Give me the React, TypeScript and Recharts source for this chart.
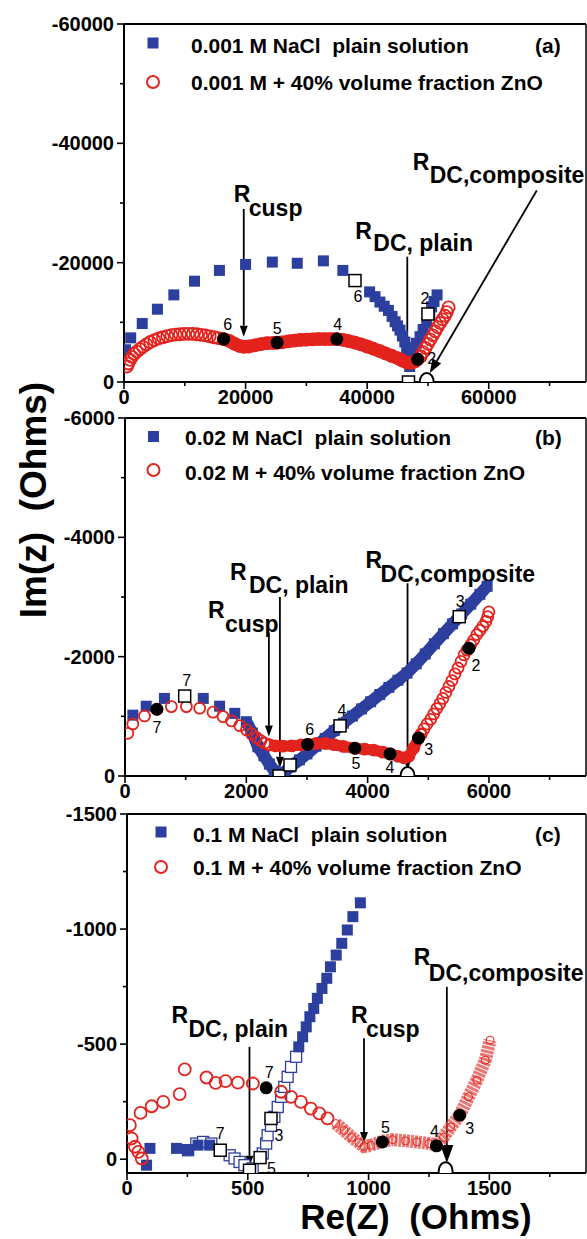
import React from 'react';
import { ScatterChart, Scatter, XAxis, YAxis, ReferenceLine } from 'recharts';

const BLUE = '#2c3f9f';
const RED = '#e3231d';
const FONT = '"Liberation Sans", Arial, Helvetica, sans-serif';

const pts = (arr: number[][]) => arr.map(([x, y]) => ({ x, y }));

// ---------- panel (a) 0.001 M ----------
const aPlain = pts([
  [250, -5400], [1100, -7400], [3000, -9800], [5500, -12200], [8200, -14600], [11600, -16900],
  [15700, -18700], [20000, -19700], [24400, -20100], [28500, -19900], [32800, -20300], [36000, -18700],
  [40400, -15100], [41300, -14300], [42100, -13400], [42800, -12700], [43500, -12000], [44100, -11000],
  [44600, -10100], [45000, -9400], [45400, -8700], [45800, -7700], [46200, -6700], [46500, -5700],
  [46800, -4800], [46900, -3600], [47000, -2600], [47300, -4200], [47600, -5400], [48100, -6500],
  [48700, -7600], [49200, -8800], [49800, -9900], [50300, -11400], [50600, -12600], [51000, -13500],
  [51500, -14600],
]);
const aComp = pts([
  [500, -2600], [700, -3100], [1000, -3700], [1300, -4200], [1700, -4700], [2100, -5100], [2600, -5500],
  [3100, -5900], [3700, -6300], [4300, -6700], [5000, -7000], [5700, -7300], [6400, -7500], [7100, -7700],
  [7800, -7850], [8500, -7950], [9200, -8000], [9900, -8050], [10600, -8050], [11300, -8050],
  [12000, -8000], [12700, -7900], [13400, -7800], [14100, -7650], [14800, -7500],
  [48800, -4300], [49200, -5000], [49600, -5700], [50000, -6400], [50400, -7100], [50800, -7800],
  [51200, -8500], [51600, -9200], [52000, -9900], [52400, -10500], [52800, -11100], [53100, -11700],
  [53400, -12500],
]);
const aCompBand = pts([
  [15500, -7350], [16400, -7200], [17300, -6900], [18200, -6400], [19000, -6050], [19700, -5900],
  [20500, -5950], [21500, -6150], [22500, -6350], [23500, -6500], [24500, -6550], [25200, -6580],
  [26000, -6650], [27000, -6800], [28000, -6950], [29000, -7050], [30000, -7100], [31000, -7150],
  [32000, -7200], [33000, -7200], [34000, -7200], [35000, -7200], [36000, -7050], [37000, -6850],
  [38000, -6600], [39000, -6300], [40000, -5950], [41000, -5600], [42000, -5200], [43000, -4800],
  [44000, -4400], [45000, -4000], [45800, -3600], [46500, -3300], [47200, -3200], [47800, -3400],
  [48300, -3800], [48800, -4300],
]);
const aPlainMarks = [
  { x: 38000, y: -17000, n: '6' }, { x: 46800, y: 0, n: '5' }, { x: 50000, y: -11400, n: '2' },
];
const aCompMarks = [
  { x: 16400, y: -7200, n: '6' }, { x: 25200, y: -6600, n: '5' }, { x: 35000, y: -7200, n: '4' },
  { x: 48300, y: -3800, n: '2' },
];
const aRdc = [{ x: 49800, y: 0 }];
const aXTicks = [0, 10000, 20000, 30000, 40000, 50000, 60000, 70000];
const aYTicks = [-60000, -50000, -40000, -30000, -20000, -10000, 0];

// ---------- panel (b) 0.02 M ----------
const bPlain = pts([
  [130, -1020], [350, -1170], [650, -1300], [1290, -1300], [1560, -1170], [1810, -1050],
]);
const bPlainBand = pts([
  [2000, -910], [2100, -720], [2190, -490], [2290, -340], [2380, -200], [2460, -90], [2530, -20],
  [2620, -60], [2720, -150], [2876, -270], [3000, -370], [3150, -500], [3300, -630], [3450, -760],
  [3600, -885], [3750, -1005], [3900, -1125], [4050, -1245], [4200, -1365], [4350, -1485],
  [4500, -1605], [4650, -1725], [4800, -1880], [4950, -2045], [5100, -2215], [5250, -2385],
  [5400, -2550], [5550, -2715], [5700, -2880], [5850, -3045], [5970, -3180],
]);
const bComp = pts([
  [46, -716], [129, -873], [322, -1007], [526, -1119], [764, -1163], [1012, -1163], [1231, -1136],
  [1451, -1069], [1617, -995], [1756, -923], [1893, -844], [2003, -772], [2086, -705], [2169, -643],
  [2240, -592], [2302, -549], [2385, -520],
  [4880, -700], [4930, -790], [4980, -870], [5040, -950], [5090, -1040], [5140, -1130], [5190, -1210],
  [5240, -1300], [5290, -1400], [5340, -1500], [5390, -1600], [5440, -1710], [5490, -1810],
  [5540, -1920], [5590, -2030], [5640, -2110], [5700, -2200], [5750, -2280], [5800, -2370],
  [5850, -2440], [5900, -2510], [5950, -2590], [5980, -2670], [6000, -2750],
]);
const bCompBand = pts([
  [2385, -520], [2480, -505], [2600, -500], [2750, -505], [2900, -520], [3010, -530], [3150, -545],
  [3300, -545], [3450, -525], [3600, -495], [3790, -465], [3950, -450], [4100, -435], [4250, -400],
  [4370, -370], [4500, -330], [4600, -305], [4680, -330], [4760, -470], [4840, -635], [4880, -700],
]);
const bPlainMarks = [
  { x: 984, y: -1340, n: '7' }, { x: 2540, y: 0, n: '5' }, { x: 2720, y: -185, n: '' },
  { x: 3545, y: -840, n: '4' }, { x: 5510, y: -2670, n: '3' },
];
const bCompMarks = [
  { x: 526, y: -1119, n: '7' }, { x: 3010, y: -530, n: '6' }, { x: 3790, y: -465, n: '5' },
  { x: 4370, y: -370, n: '4' }, { x: 4840, y: -635, n: '3' }, { x: 5670, y: -2140, n: '2' },
];
const bRdc = [{ x: 4658, y: 0 }];
const bXTicks = [0, 1000, 2000, 3000, 4000, 5000, 6000, 7000];
const bYTicks = [-6000, -5000, -4000, -3000, -2000, -1000, 0];

// ---------- panel (c) 0.1 M ----------
const cPlainFilled = pts([
  [81, 26], [95, -47], [205, -47], [253, -42], [294, -61], [342, -61],
  [711, -488], [727, -532], [742, -575], [757, -619], [773, -655], [788, -699], [807, -742],
  [827, -786], [842, -836], [866, -887], [889, -938], [912, -996], [935, -1054], [966, -1114],
]);
const cPlainOpen = pts([
  [253, -39], [287, -68], [315, -75], [349, -68], [425, -17], [445, -3], [466, 12], [486, 26],
  [520, 40], [562, -25], [576, -68], [582, -104], [596, -145], [610, -184], [624, -227], [638, -271],
  [651, -314], [665, -358], [679, -401], [700, -445],
]);
const cComp = pts([
  [12, -148], [19, -90], [33, -54], [47, -32], [61, -3], [56, -201], [102, -230], [150, -249],
  [218, -283], [239, -390], [329, -355], [367, -332], [408, -339], [459, -333], [521, -329],
  [638, -293], [679, -271], [720, -249], [761, -220], [796, -199], [830, -177],
]);
const cCompBand = pts([
  [864, -155], [899, -125], [930, -95], [960, -72], [981, -55], [1010, -60], [1057, -78], [1100, -85],
  [1153, -80], [1200, -75], [1250, -68], [1281, -62], [1310, -95], [1340, -140], [1377, -191],
  [1414, -271], [1448, -343], [1483, -430], [1503, -517],
]);
const cPlainMarks = [
  { x: 386, y: -39, n: '7' }, { x: 507, y: 48, n: '5' }, { x: 551, y: -7, n: '' }, { x: 596, y: -177, n: '3' },
];
const cCompMarks = [
  { x: 576, y: -310, n: '7' }, { x: 1057, y: -75, n: '5' }, { x: 1281, y: -58, n: '4' }, { x: 1377, y: -191, n: '3' },
];
const cRdc = [{ x: 1319, y: 52 }];
const cXTicks = [0, 250, 500, 750, 1000, 1250, 1500, 1750];
const cYTicks = [-1500, -1250, -1000, -750, -500, -250, 0];

// label offsets for numbered markers (px)
const aBoxOff: Record<string, number[]> = { '6': [3, 21], '5': [2, 22], '2': [-3, -10] };
const aDotOff: Record<string, number[]> = { '6': [4, -9], '5': [0, -9], '4': [1, -9], '2': [14, 5] };
const bBoxOff: Record<string, number[]> = { '7': [2, -10], '5': [14, 16], '4': [2, -10], '3': [1, -10] };
const bDotOff: Record<string, number[]> = { '7': [0, 24], '6': [2, -9], '5': [1, 21], '4': [0, 19], '3': [10, 17], '2': [7, 23] };
const cBoxOff: Record<string, number[]> = { '7': [0, -11], '5': [22, 4], '3': [8, 23] };
const cDotOff: Record<string, number[]> = { '7': [3, -10], '5': [3, -9], '4': [-2, -9], '3': [10, 19] };

// ---------- shapes ----------
const square = (fill: string, stroke: string) => (p: any) => (
  <rect x={p.cx - 5.5} y={p.cy - 5.5} width={11} height={11} fill={fill} stroke={stroke} strokeWidth={1.3} />
);
const ring = (r: number, w: number) => (p: any) => (
  <circle cx={p.cx} cy={p.cy} r={r} fill="none" stroke={RED} strokeWidth={w} />
);
const mark = (kind: 'dot' | 'box', offs: Record<string, number[]>) => (p: any) => {
  const n = p.n ?? p.payload?.n ?? '';
  const o = offs[n] || [0, 0];
  return (
    <g>
      {kind === 'dot' ? (
        <circle cx={p.cx} cy={p.cy} r={6.5} fill="#000" />
      ) : (
        <rect x={p.cx - 6} y={p.cy - 6} width={12} height={12} fill="#fff" stroke="#000" strokeWidth={1.5} />
      )}
      {n && (
        <text x={p.cx + o[0]} y={p.cy + o[1]} textAnchor="middle" fontFamily={FONT} fontSize={16}>
          {n}
        </text>
      )}
    </g>
  );
};
const bigRing = (p: any) => (
  <ellipse cx={p.cx} cy={p.cy} rx={7} ry={9} fill="#fff" stroke="#000" strokeWidth={2} />
);

type Note = { text: string; r: number[]; sub: number[]; head?: number };
const arrow = (note: Note) => (p: any) => {
  const { x1, y1, x2, y2 } = p;
  const ang = Math.atan2(y2 - y1, x2 - x1);
  const hl = note.head ?? 11;
  const hw = hl * 0.36;
  const bx = x2 - hl * Math.cos(ang);
  const by = y2 - hl * Math.sin(ang);
  const nx = -Math.sin(ang) * hw;
  const ny = Math.cos(ang) * hw;
  return (
    <g>
      <line x1={x1} y1={y1} x2={bx} y2={by} stroke="#000" strokeWidth={1.8} />
      <polygon points={`${x2},${y2} ${bx + nx},${by + ny} ${bx - nx},${by - ny}`} fill="#000" />
      <text x={x1 + note.r[0]} y={y1 + note.r[1]} fontFamily={FONT} fontWeight="bold" fontSize={23}>R</text>
      <text x={x1 + note.sub[0]} y={y1 + note.sub[1]} fontFamily={FONT} fontWeight="bold" fontSize={23}>
        {note.text}
      </text>
    </g>
  );
};

const tick = (axis: 'x' | 'y', major: number[]) => (p: any) => {
  const { x, y, payload } = p;
  const v = payload.value;
  const isMajor = major.includes(v);
  const len = isMajor ? 7 : 4;
  if (axis === 'x') {
    return (
      <g>
        <line x1={x} y1={y} x2={x} y2={y + len} stroke="#000" strokeWidth={1.6} />
        {isMajor && (
          <text x={x} y={y + 22} textAnchor="middle" fontFamily={FONT} fontWeight="bold" fontSize={20}>{v}</text>
        )}
      </g>
    );
  }
  return (
    <g>
      <line x1={x} y1={y} x2={x - len} y2={y} stroke="#000" strokeWidth={1.6} />
      {isMajor && (
        <text x={x - 10} y={y + 7} textAnchor="end" fontFamily={FONT} fontWeight="bold" fontSize={20}>{v}</text>
      )}
    </g>
  );
};

const Panel = ({ top, height, margin, yWidth, xDomain, xTicks, xMajor, yDomain, yTicks, yMajor, children }: any) => (
  <div style={{ position: 'absolute', left: 0, top }}>
    <ScatterChart width={587} height={height} margin={margin}>
      <XAxis type="number" dataKey="x" domain={xDomain} ticks={xTicks} allowDataOverflow interval={0}
        tick={tick('x', xMajor)} tickLine={false} tickSize={0} tickMargin={0} height={28}
        axisLine={{ stroke: '#000', strokeWidth: 2 }} />
      <YAxis type="number" dataKey="y" domain={yDomain} ticks={yTicks} reversed allowDataOverflow interval={0}
        tick={tick('y', yMajor)} tickLine={false} tickSize={0} tickMargin={0} width={yWidth}
        axisLine={{ stroke: '#000', strokeWidth: 2 }} />
      <ReferenceLine y={yDomain[0]} stroke="#000" strokeWidth={2} ifOverflow="visible" />
      <ReferenceLine x={xDomain[1]} stroke="#000" strokeWidth={1.5} ifOverflow="visible" />
      {children}
    </ScatterChart>
  </div>
);

const legendText = { fontFamily: FONT, fontWeight: 'bold' as const, fontSize: 21, style: { whiteSpace: 'pre' as const } };

export default function App() {
  return (
    <div style={{ position: 'absolute', left: 0, top: 0, width: 587, height: 1239, background: '#fff' }}>
      <Panel top={0} height={410} margin={{ top: 24, right: 1, bottom: 0, left: 0 }} yWidth={124}
        xDomain={[0, 76000]} xTicks={aXTicks} xMajor={[0, 20000, 40000, 60000]}
        yDomain={[-60000, 0]} yTicks={aYTicks} yMajor={[-60000, -40000, -20000, 0]}>
        <Scatter data={aPlain} shape={square(BLUE, 'none')} isAnimationActive={false} />
        <Scatter data={aComp} shape={ring(6, 1.8)} isAnimationActive={false} />
        <Scatter data={aCompBand} shape={ring(6, 1.8)} line={{ stroke: RED, strokeWidth: 13 }} isAnimationActive={false} />
        <ReferenceLine segment={[{ x: 19700, y: -29000 }, { x: 19700, y: -7600 }]} ifOverflow="visible"
          shape={arrow({ text: 'cusp', r: [-10, -7], sub: [5, 7] })} />
        <ReferenceLine segment={[{ x: 46600, y: -21000 }, { x: 46600, y: -2600 }]} ifOverflow="visible"
          shape={arrow({ text: 'DC, plain', r: [-52, -18], sub: [-34, -6] })} />
        <ReferenceLine segment={[{ x: 67900, y: -32100 }, { x: 50300, y: -1500 }]} ifOverflow="visible"
          shape={arrow({ text: 'DC,composite', r: [-124, -20], sub: [-107, -7], head: 14 })} />
        <Scatter data={aPlainMarks} shape={mark('box', aBoxOff)} isAnimationActive={false} />
        <Scatter data={aCompMarks} shape={mark('dot', aDotOff)} isAnimationActive={false} />
        <Scatter data={aRdc} shape={bigRing} isAnimationActive={false} />
      </Panel>

      <Panel top={400} height={410} margin={{ top: 18, right: 1, bottom: 6, left: 0 }} yWidth={125}
        xDomain={[0, 7600]} xTicks={bXTicks} xMajor={[0, 2000, 4000, 6000]}
        yDomain={[-6000, 0]} yTicks={bYTicks} yMajor={[-6000, -4000, -2000, 0]}>
        <Scatter data={bPlain} shape={square(BLUE, 'none')} isAnimationActive={false} />
        <Scatter data={bPlainBand} shape={square(BLUE, 'none')} line={{ stroke: BLUE, strokeWidth: 12 }} isAnimationActive={false} />
        <Scatter data={bComp} shape={ring(5.5, 1.8)} isAnimationActive={false} />
        <Scatter data={bCompBand} shape={ring(5.5, 1.8)} line={{ stroke: RED, strokeWidth: 11 }} isAnimationActive={false} />
        <ReferenceLine segment={[{ x: 2372, y: -2400 }, { x: 2372, y: -660 }]} ifOverflow="visible"
          shape={arrow({ text: 'cusp', r: [-61, -15], sub: [-44, -1] })} />
        <ReferenceLine segment={[{ x: 2554, y: -3000 }, { x: 2554, y: -140 }]} ifOverflow="visible"
          shape={arrow({ text: 'DC, plain', r: [-50, -17], sub: [-31, -4] })} />
        <ReferenceLine segment={[{ x: 4658, y: -3230 }, { x: 4658, y: -100 }]} ifOverflow="visible"
          shape={arrow({ text: 'DC,composite', r: [-42, -15], sub: [-27, -1] })} />
        <Scatter data={bPlainMarks} shape={mark('box', bBoxOff)} isAnimationActive={false} />
        <Scatter data={bCompMarks} shape={mark('dot', bDotOff)} isAnimationActive={false} />
        <Scatter data={bRdc} shape={bigRing} isAnimationActive={false} />
      </Panel>

      <Panel top={800} height={439} margin={{ top: 14, right: 1, bottom: 38, left: 0 }} yWidth={127}
        xDomain={[0, 1900]} xTicks={cXTicks} xMajor={[0, 500, 1000, 1500]}
        yDomain={[-1500, 60]} yTicks={cYTicks} yMajor={[-1500, -1000, -500, 0]}>
        <Scatter data={cPlainOpen} shape={square('#fff', BLUE)} isAnimationActive={false} />
        <Scatter data={cPlainFilled} shape={square(BLUE, 'none')} isAnimationActive={false} />
        <Scatter data={cComp} shape={ring(6, 1.8)} isAnimationActive={false} />
        <Scatter data={cCompBand} shape={ring(4, 1)} line={{ stroke: '#e24a44', strokeWidth: 13, strokeOpacity: 0.75, strokeDasharray: '3 1' }} isAnimationActive={false} />
        <ReferenceLine segment={[{ x: 507, y: -488 }, { x: 507, y: 33 }]} ifOverflow="visible"
          shape={arrow({ text: 'DC, plain', r: [-78, -24], sub: [-61, -10] })} />
        <ReferenceLine segment={[{ x: 981, y: -526 }, { x: 981, y: -70 }]} ifOverflow="visible"
          shape={arrow({ text: 'cusp', r: [-13, -15], sub: [2, -1] })} />
        <ReferenceLine segment={[{ x: 1324, y: -749 }, { x: 1324, y: 17 }]} ifOverflow="visible"
          shape={arrow({ text: 'DC,composite', r: [-33, -22], sub: [-18, -6], head: 18 })} />
        <Scatter data={cPlainMarks} shape={mark('box', cBoxOff)} isAnimationActive={false} />
        <Scatter data={cCompMarks} shape={mark('dot', cDotOff)} isAnimationActive={false} />
        <Scatter data={cRdc} shape={bigRing} isAnimationActive={false} />
      </Panel>

      <svg width={587} height={1239} style={{ position: 'absolute', left: 0, top: 0, pointerEvents: 'none' }}>
        {/* legends */}
        <rect x={147.5} y={37.5} width={11} height={11} fill={BLUE} />
        <text x={191} y={53} {...legendText}>0.001 M NaCl  plain solution</text>
        <circle cx={153} cy={82} r={6} fill="none" stroke={RED} strokeWidth={2} />
        <text x={191} y={90} {...legendText}>0.001 M + 40% volume fraction ZnO</text>
        <text x={535} y={53} {...legendText}>(a)</text>

        <rect x={148} y={431} width={11} height={11} fill={BLUE} />
        <text x={185} y={445} {...legendText}>0.02 M NaCl  plain solution</text>
        <circle cx={153.5} cy={470} r={6} fill="none" stroke={RED} strokeWidth={2} />
        <text x={185} y={480} {...legendText}>0.02 M + 40% volume fraction ZnO</text>
        <text x={535} y={445} {...legendText}>(b)</text>

        <rect x={155.5} y={826.5} width={11} height={11} fill={BLUE} />
        <text x={193} y={842} {...legendText}>0.1 M NaCl  plain solution</text>
        <circle cx={161} cy={867} r={6} fill="none" stroke={RED} strokeWidth={2} />
        <text x={193} y={875} {...legendText}>0.1 M + 40% volume fraction ZnO</text>
        <text x={535} y={842} {...legendText}>(c)</text>

        {/* axis titles */}
        <text x={416} y={1229} textAnchor="middle" fontFamily={FONT} fontWeight="bold" fontSize={35}
          style={{ whiteSpace: 'pre' }}>Re(Z)  (Ohms)</text>
        <text x={0} y={0} transform="translate(46,500) rotate(-90)" textAnchor="middle" fontFamily={FONT}
          fontWeight="bold" fontSize={37} style={{ whiteSpace: 'pre' }}>Im(z)  (Ohms)</text>
      </svg>
    </div>
  );
}
